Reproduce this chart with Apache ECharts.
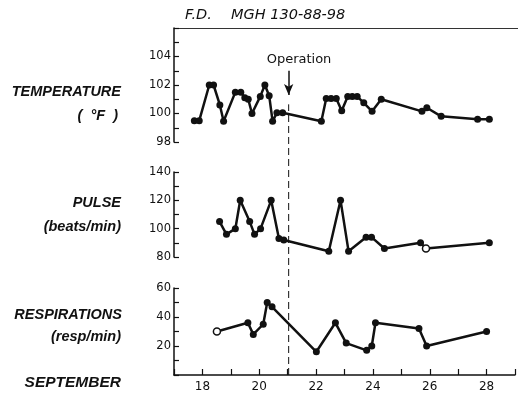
<!DOCTYPE html>
<html><head><meta charset="utf-8">
<script src="https://cdn.jsdelivr.net/npm/echarts@6/dist/echarts.min.js"></script>
<style>html,body{margin:0;padding:0;background:#fff}#c{width:518px;height:393px}</style>
</head><body><div id="c"></div>
<script>
// ---- data ----
const tempDays = [17.71,17.88,18.23,18.38,18.60,18.73,19.14,19.33,19.47,19.59,19.72,20.01,20.17,20.32,20.44,20.59,20.79,22.14,22.31,22.48,22.66,22.85,23.06,23.22,23.39,23.62,23.91,24.23,25.65,25.82,26.32,27.59,28.0];
const tempVals = [99.5,99.5,102,102,100.6,99.45,101.5,101.5,101.1,101.0,100.0,101.2,102,101.25,99.45,100.05,100.05,99.45,101.05,101.05,101.05,100.2,101.2,101.2,101.2,100.75,100.15,101.0,100.15,100.4,99.8,99.6,99.6];

const pulseDays = [18.59,18.83,19.14,19.31,19.64,19.81,20.02,20.39,20.66,20.83,22.40,22.81,23.09,23.70,23.89,24.34,25.60,25.79,28.0];
const pulseVals = [105,96,100,120,105,96,100,120,93,92,84,120,84,94,94,86,90,86,90];
const pulseOpenIdx = [17];

const respDays = [18.51,19.60,19.79,20.14,20.28,20.45,22.01,22.68,23.06,23.78,23.96,24.09,25.62,25.89,28.0];
const respVals = [30,36,28,35,50,47,16,36,22,17,20,36,32,20,30];
const respOpenIdx = [0];

const operationDay = 21;
const arrowFrom = 103, arrowTo = 101.3;   // temperature units
const dashTop = 78;                        // overlay units (0-100)

const xLabels = [18,20,22,24,26,28];
const tempLabels = [98,100,102,104];
const pulseLabels = [80,100,120,140];
const respLabels = [20,40,60];

// ---- build ----
const INK = '#111';
const FONT = 'DejaVu Sans';
function pts(days, vals, openIdx){
  return days.map((d,i)=>{
    const o = {value:[d, vals[i]]};
    if (openIdx && openIdx.includes(i)) o.itemStyle = {color:'#fff', borderColor:INK, borderWidth:1.5};
    return o;
  });
}
function yAx(gi, min, max, interval, labels){
  return {gridIndex:gi, type:'value', min, max, interval,
    axisLine:{show:true, lineStyle:{color:INK, width:1.5}},
    axisTick:{show:true, inside:true, length:5, lineStyle:{color:INK, width:1.2}},
    splitLine:{show:false},
    axisLabel:{margin:3, color:INK, fontFamily:FONT, fontSize:11.5,
      formatter:v=> labels.includes(v) ? String(v) : ''}};
}
function lineSeries(gi, data){
  return {type:'line', xAxisIndex:gi, yAxisIndex:gi, data, symbol:'circle', symbolSize:7,
    itemStyle:{color:INK}, lineStyle:{color:INK, width:2.5}, silent:true, animation:false, z:3};
}
const left = 174, width = 344;
const LBL = 'italic bold 14.5px "Liberation Sans"';
const TTL = 'italic 14.5px "DejaVu Sans"';
const option = {
  backgroundColor:'#fff',
  animation:false,
  grid:[
    {left, width, top:28, height:114},
    {left, width, top:172, height:85},
    {left, width, top:288, height:87},
    {left, width, top:28, height:347}
  ],
  xAxis:[
    {gridIndex:0, type:'value', min:17, max:29, position:'top',
      axisLine:{show:true, onZero:false, lineStyle:{color:'#333', width:1}}, axisTick:{show:false}, axisLabel:{show:false}, splitLine:{show:false}},
    {gridIndex:1, type:'value', min:17, max:29, show:false},
    {gridIndex:2, type:'value', min:17, max:29, interval:1,
      axisLine:{show:true, onZero:false, lineStyle:{color:INK, width:1.5}},
      axisTick:{show:true, inside:true, length:6, lineStyle:{color:INK, width:1.2}},
      splitLine:{show:false},
      axisLabel:{margin:6, color:INK, fontFamily:FONT, fontSize:12,
        formatter:v=> xLabels.includes(v) ? String(v) : ''}},
    {gridIndex:3, type:'value', min:17, max:29, show:false}
  ],
  yAxis:[
    yAx(0, 98, 106, 1, tempLabels),
    yAx(1, 80, 140, 10, pulseLabels),
    yAx(2, 0, 60, 10, respLabels),
    {gridIndex:3, type:'value', min:0, max:100, show:false}
  ],
  series:[
    Object.assign(lineSeries(0, pts(tempDays, tempVals)), {
      markLine:{silent:true, animation:false, symbolSize:[7,11],
        label:{show:false}, lineStyle:{color:INK, width:1.5, type:'solid'},
        data:[[{coord:[operationDay, arrowFrom], symbol:'none'},{coord:[operationDay, arrowTo], symbol:'arrow'}]]}
    }),
    lineSeries(1, pts(pulseDays, pulseVals, pulseOpenIdx)),
    lineSeries(2, pts(respDays, respVals, respOpenIdx)),
    {type:'line', xAxisIndex:3, yAxisIndex:3, data:[[operationDay,0],[operationDay,dashTop]],
      symbol:'none', silent:true, lineStyle:{color:INK, width:1, type:[7,4]}, z:1}
  ],
  graphic:[
    {type:'text', x:185, y:15, style:{text:'F.D.', font:TTL, fill:INK, textVerticalAlign:'middle'}},
    {type:'text', x:231, y:15, style:{text:'MGH 130-88-98', font:TTL, fill:INK, textVerticalAlign:'middle'}},
    {type:'text', x:299, y:60, style:{text:'Operation', font:'13px "DejaVu Sans"', fill:INK, textAlign:'center', textVerticalAlign:'middle'}},
    {type:'text', x:121, y:92, style:{text:'TEMPERATURE', font:LBL, fill:INK, textAlign:'right', textVerticalAlign:'middle'}},
    {type:'text', x:118, y:116, style:{text:'(  \u00B0F  )', font:LBL, fill:INK, textAlign:'right', textVerticalAlign:'middle'}},
    {type:'text', x:121, y:203, style:{text:'PULSE', font:LBL, fill:INK, textAlign:'right', textVerticalAlign:'middle'}},
    {type:'text', x:121, y:227, style:{text:'(beats/min)', font:LBL, fill:INK, textAlign:'right', textVerticalAlign:'middle'}},
    {type:'text', x:122, y:315, style:{text:'RESPIRATIONS', font:LBL, fill:INK, textAlign:'right', textVerticalAlign:'middle'}},
    {type:'text', x:121, y:337, style:{text:'(resp/min)', font:LBL, fill:INK, textAlign:'right', textVerticalAlign:'middle'}},
    {type:'text', x:121, y:383, style:{text:'SEPTEMBER', font:'italic bold 15.5px "Liberation Sans"', fill:INK, textAlign:'right', textVerticalAlign:'middle'}}
  ]
};
const chart = echarts.init(document.getElementById('c'), null, {renderer:'canvas'});
chart.setOption(option);
</script></body></html>
